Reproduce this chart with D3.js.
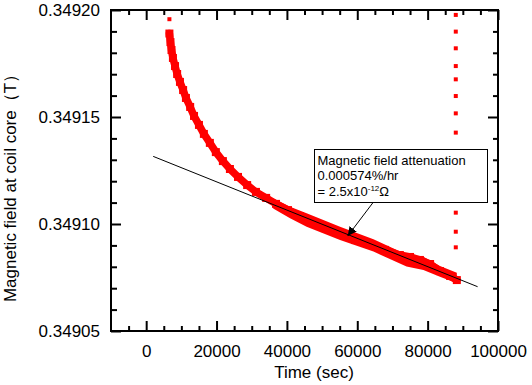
<!DOCTYPE html>
<html>
<head>
<meta charset="utf-8">
<script src="https://cdn.jsdelivr.net/npm/d3@7"></script>
<style>
  body { margin: 0; background: #fff; }
  text { font-family: "Liberation Sans", Arial, sans-serif; }
</style>
</head>
<body>
<div class="chart"></div>
<script>
// main decay curve, centre of the red band (time in sec, field in T)
const timeSec = [6600, 6900, 7200, 7600, 8200, 8800, 9600, 10500, 11300, 12500,
  13600, 15000, 16400, 18100, 19800, 21800, 23800, 26100, 28700, 31200,
  34100, 36900, 40300, 43700, 47100, 50800, 55100, 59400, 63600, 67900,
  72100, 75000, 77800, 80700, 83500, 86400, 88300];
const fieldT = [0.3491890, 0.3491850, 0.3491813, 0.3491776, 0.3491738, 0.3491701,
  0.3491664, 0.3491626, 0.3491589, 0.3491547, 0.3491505, 0.3491463, 0.3491421,
  0.3491379, 0.3491336, 0.3491294, 0.3491257, 0.3491220, 0.3491182, 0.3491150,
  0.3491122, 0.3491094, 0.3491065, 0.3491037, 0.3491009, 0.3490981, 0.3490953,
  0.3490925, 0.3490902, 0.3490879, 0.3490855, 0.3490846, 0.3490832, 0.3490813,
  0.3490780, 0.3490757, 0.3490738];

// spread of the noisy band in the slow part
const bandTime = [36100, 40900, 45600, 55100, 64600, 74000, 78800, 83500, 88300];
const bandHigh = [0.3491120, 0.3491081, 0.3491050, 0.3490987,
  0.3490929, 0.3490858, 0.3490847, 0.3490804, 0.3490772];
const bandLow = [0.3491073, 0.3491027, 0.3490987, 0.3490925,
  0.3490871, 0.3490801, 0.3490785, 0.3490754, 0.3490723];

// stray single readings
const strayTime = [6600, 88000, 88000, 88000, 88000, 88000, 88000, 88000, 88000, 88000, 88000, 88000];
const strayField = [0.3491957, 0.3491977, 0.3491899, 0.3491821, 0.3491738, 0.3491676,
  0.3491598, 0.3491517, 0.3491427, 0.3491053, 0.3490964, 0.3490891];

// linear fit
const fitTime = [2000, 94200];
const fitField = [0.3491316, 0.3490707];

const xMajor = [0, 20000, 40000, 60000, 80000, 100000];
const xMinor = d3.range(-5000, 100000, 5000).filter(v => v % 20000 !== 0);
const yMajor = [0.34905, 0.34910, 0.34915, 0.34920];
const yMinor = [0.34906, 0.34907, 0.34908, 0.34909, 0.34911, 0.34912, 0.34913, 0.34914,
  0.34916, 0.34917, 0.34918, 0.34919];

const noteLines = ["Magnetic field attenuation", "0.000574%/hr"];

let svg = d3.select('.chart').append('svg')
  .attr('width', 532)
  .attr('height', 385);

let x = d3.scaleLinear().domain([-10000, 100000]).range([111, 498]);
let y = d3.scaleLinear().domain([0.34905, 0.34920]).range([331, 10]);

// data first, frame drawn over it
let band = d3.area()
  .x((d, i) => x(bandTime[i]))
  .y0((d, i) => y(bandLow[i]))
  .y1((d, i) => y(bandHigh[i]));
svg.append('path')
  .attr('d', band(bandTime))
  .attr('fill', '#ff0000');

let curve = d3.line()
  .x((d, i) => x(timeSec[i]))
  .y((d, i) => y(fieldT[i]));
svg.append('path')
  .attr('d', curve(timeSec))
  .attr('fill', 'none')
  .attr('stroke', '#ff0000')
  .attr('stroke-width', 7.5)
  .attr('stroke-linejoin', 'round')
  .attr('stroke-linecap', 'round');

svg.selectAll('.dot')
  .data(timeSec)
  .enter()
  .append('rect')
    .attr('class', 'dot')
    .attr('x', (d) => x(d) - 4)
    .attr('y', (d, i) => y(fieldT[i]) - 4)
    .attr('width', 8)
    .attr('height', 8)
    .attr('fill', '#ff0000');

svg.selectAll('.stray')
  .data(strayTime)
  .enter()
  .append('rect')
    .attr('class', 'stray')
    .attr('x', (d) => x(d) - 2)
    .attr('y', (d, i) => y(strayField[i]) - 2)
    .attr('width', 4)
    .attr('height', 4)
    .attr('fill', '#ff0000');

svg.append('line')
  .attr('x1', x(fitTime[0]))
  .attr('y1', y(fitField[0]))
  .attr('x2', x(fitTime[1]))
  .attr('y2', y(fitField[1]))
  .attr('stroke', 'black')
  .attr('stroke-width', 1);

// axes, ticks point inwards on all four sides
function styleAxis(g) {
  g.select('.domain').remove();
  g.selectAll('line').attr('stroke', 'black').attr('stroke-width', 2);
  g.selectAll('text').attr('font-size', 17).attr('fill', 'black')
    .attr('font-family', '"Liberation Sans", Arial, sans-serif');
}

svg.append('g').attr('transform', 'translate(0,331)')
  .call(d3.axisBottom(x).tickValues(xMajor).tickSize(-10).tickPadding(14).tickFormat(d3.format('d')))
  .call(styleAxis);
svg.append('g').attr('transform', 'translate(0,331)')
  .call(d3.axisBottom(x).tickValues(xMinor).tickSize(-5).tickFormat(''))
  .call(styleAxis);
svg.append('g').attr('transform', 'translate(0,10)')
  .call(d3.axisTop(x).tickValues(xMajor).tickSize(-10).tickFormat(''))
  .call(styleAxis);
svg.append('g').attr('transform', 'translate(0,10)')
  .call(d3.axisTop(x).tickValues(xMinor).tickSize(-5).tickFormat(''))
  .call(styleAxis);

svg.append('g').attr('transform', 'translate(111,0)')
  .call(d3.axisLeft(y).tickValues(yMajor).tickSize(-10).tickPadding(11).tickFormat(d3.format('.5f')))
  .call(styleAxis);
svg.append('g').attr('transform', 'translate(111,0)')
  .call(d3.axisLeft(y).tickValues(yMinor).tickSize(-6).tickFormat(''))
  .call(styleAxis);
svg.append('g').attr('transform', 'translate(498,0)')
  .call(d3.axisRight(y).tickValues(yMajor).tickSize(-10).tickFormat(''))
  .call(styleAxis);
svg.append('g').attr('transform', 'translate(498,0)')
  .call(d3.axisRight(y).tickValues(yMinor).tickSize(-5).tickFormat(''))
  .call(styleAxis);

svg.append('rect')
  .attr('x', 111).attr('y', 10)
  .attr('width', 387).attr('height', 321)
  .attr('fill', 'none')
  .attr('stroke', 'black')
  .attr('stroke-width', 2);

svg.append('text')
  .attr('x', 314)
  .attr('y', 378)
  .attr('text-anchor', 'middle')
  .attr('font-size', 17)
  .text('Time (sec)');

svg.append('text')
  .attr('transform', 'translate(16,184)rotate(-90)')
  .attr('text-anchor', 'middle')
  .attr('font-size', 17)
  .text('Magnetic field at coil core（T）');

// annotation box with arrow
let defs = svg.append('defs');
defs.append('marker')
  .attr('id', 'head')
  .attr('viewBox', '0 0 10 10')
  .attr('refX', 10).attr('refY', 5)
  .attr('markerWidth', 9).attr('markerHeight', 9)
  .attr('markerUnits', 'userSpaceOnUse')
  .attr('orient', 'auto')
  .append('path')
    .attr('d', 'M0,0L10,5L0,10z')
    .attr('fill', 'black');

svg.append('line')
  .attr('x1', 372.7).attr('y1', 203)
  .attr('x2', 347.7).attr('y2', 236)
  .attr('stroke', 'black')
  .attr('stroke-width', 1)
  .attr('marker-end', 'url(#head)');

svg.append('rect')
  .attr('x', 314.5).attr('y', 149.5)
  .attr('width', 173).attr('height', 53)
  .attr('fill', 'white')
  .attr('stroke', 'black')
  .attr('stroke-width', 1);

let note = svg.append('text')
  .attr('x', 317.5)
  .attr('y', 164.5)
  .attr('font-size', 13);
note.append('tspan').attr('x', 317.5).text(noteLines[0]);
note.append('tspan').attr('x', 317.5).attr('dy', 15.7).text(noteLines[1]);
note.append('tspan').attr('x', 317.5).attr('dy', 15.7).text('= 2.5x10');
note.append('tspan').attr('dy', -5).attr('font-size', 8).text('-12');
note.append('tspan').attr('dy', 5).text('Ω');
</script>
</body>
</html>
